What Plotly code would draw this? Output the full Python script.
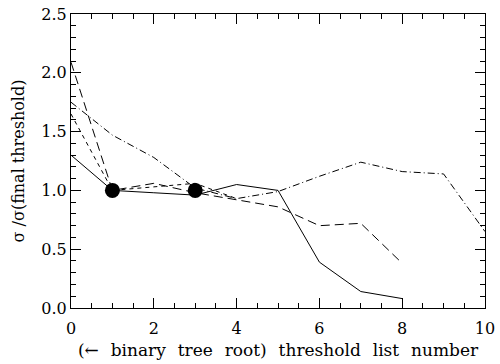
import plotly.graph_objects as go

x_solid = [0, 1, 2, 3, 4, 5, 6, 7, 8]
y_solid = [1.30, 1.00, 0.98, 0.96, 1.05, 1.00, 0.39, 0.14, 0.08]

x_longdash = [0, 1, 2, 3, 4, 5, 6, 7, 8]
y_longdash = [2.09, 1.00, 1.06, 0.98, 0.92, 0.86, 0.70, 0.72, 0.38]

x_shortdash = [0, 1, 2, 3, 4]
y_shortdash = [1.65, 1.00, 1.03, 1.06, 0.93]

x_dashdot = [0, 1, 2, 3, 4, 5, 6, 7, 8, 9, 10]
y_dashdot = [1.75, 1.47, 1.28, 1.02, 0.93, 0.99, 1.12, 1.24, 1.16, 1.14, 0.65]

x_marks = [1, 3]
y_marks = [1.0, 1.0]

x_title = "(← binary tree root) threshold list number".replace(" ", "\u2002\u2009")
y_title = "σ /σ(final threshold)\u2002\u2002\u00a0"

FONT = "DejaVu Serif"

fig = go.Figure()
fig.add_trace(go.Scatter(x=x_solid, y=y_solid, mode="lines",
                         line=dict(color="black", width=1)))
fig.add_trace(go.Scatter(x=x_longdash, y=y_longdash, mode="lines",
                         line=dict(color="black", width=1, dash="9px,5px")))
fig.add_trace(go.Scatter(x=x_shortdash, y=y_shortdash, mode="lines",
                         line=dict(color="black", width=1, dash="4px,4px")))
fig.add_trace(go.Scatter(x=x_dashdot, y=y_dashdot, mode="lines",
                         line=dict(color="black", width=1, dash="7px,3px,1px,3px")))
fig.add_trace(go.Scatter(x=x_marks, y=y_marks, mode="markers",
                         marker=dict(color="black", size=15)))

axis_common = dict(
    showgrid=False, zeroline=False, showline=True, linecolor="black", linewidth=1,
    mirror="ticks", ticks="inside", tickcolor="black", tickwidth=1,
    tickfont=dict(family=FONT, size=16, color="black"),
    ticklabeloverflow="allow",
)

fig.update_xaxes(range=[0, 10], dtick=2, tick0=0, ticklen=10, ticklabelstandoff=6,
                 minor=dict(dtick=0.5, ticklen=5, ticks="inside", tickcolor="black"),
                 title=dict(text=x_title,
                            font=dict(family=FONT, size=17, color="black"), standoff=6),
                 **axis_common)
fig.update_yaxes(range=[0, 2.5], dtick=0.5, tick0=0, ticklen=10, tickformat=".1f",
                 minor=dict(dtick=0.1, ticklen=5, ticks="inside", tickcolor="black"),
                 title=dict(text=y_title,
                            font=dict(family=FONT, size=16, color="black"), standoff=12),
                 **axis_common)

fig.update_layout(
    width=500, height=364, showlegend=False,
    margin=dict(l=71, r=13, t=5, b=56),
    paper_bgcolor="white", plot_bgcolor="white",
)

fig.write_html("out.html")
